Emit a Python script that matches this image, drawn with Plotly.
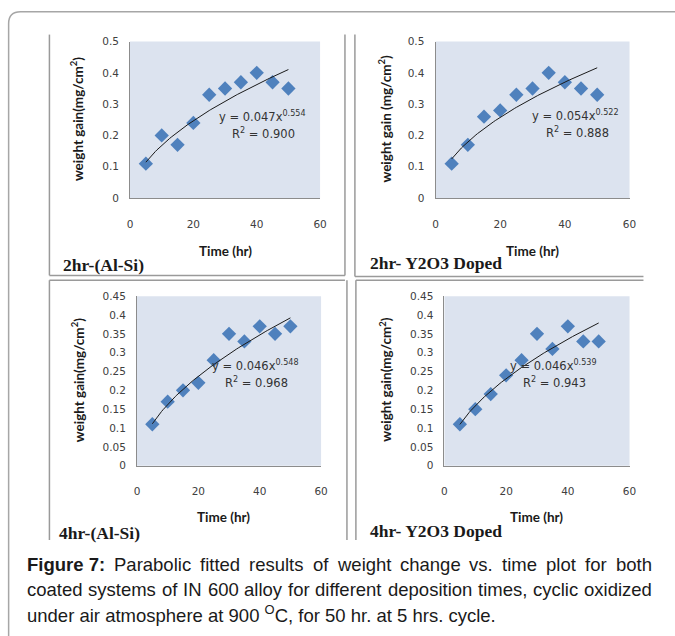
import plotly.graph_objects as go

W, H = 675, 636

# ---- data ----
time_hr = [5, 10, 15, 20, 25, 30, 35, 40, 45, 50]
gain_2hr_alsi = [0.11, 0.20, 0.17, 0.24, 0.33, 0.35, 0.37, 0.40, 0.37, 0.35]
gain_2hr_y2o3 = [0.11, 0.17, 0.26, 0.28, 0.33, 0.35, 0.40, 0.37, 0.35, 0.33]
gain_4hr_alsi = [0.11, 0.17, 0.20, 0.22, 0.28, 0.35, 0.33, 0.37, 0.35, 0.37]
gain_4hr_y2o3 = [0.11, 0.15, 0.19, 0.24, 0.28, 0.35, 0.31, 0.37, 0.33, 0.33]
fit_a = [0.047, 0.054, 0.046, 0.046]
fit_b = [0.554, 0.522, 0.548, 0.539]
fit_r2 = ["0.900", "0.888", "0.968", "0.943"]
panel_labels = ["2hr-(Al-Si)", "2hr- Y2O3 Doped", "4hr-(Al-Si)", "4hr- Y2O3 Doped"]
y_titles = ["weight gain(mg/cm<sup>2</sup>)", "weight gain (mg/cm<sup>2</sup>)",
            "weight gain(mg/cm<sup>2</sup>)", "weight gain(mg/cm<sup>2</sup>)"]
y_max = [0.5, 0.5, 0.45, 0.45]
y_dtick = [0.1, 0.1, 0.05, 0.05]
x_ticks = [0, 20, 40, 60]
series = [gain_2hr_alsi, gain_2hr_y2o3, gain_4hr_alsi, gain_4hr_y2o3]

caption_line1 = ["<b>Figure 7:</b>", "Parabolic", "fitted", "results", "of", "weight",
                 "change", "vs.", "time", "plot", "for", "both"]
caption_line2 = ["coated", "systems", "of", "IN", "600", "alloy", "for", "different",
                 "deposition", "times,", "cyclic", "oxidized"]
caption_line3 = "under air atmosphere at 900 <sup>O</sup>C, for 50 hr. at 5 hrs. cycle."

# ---- layout geometry (pixels) ----
plot_boxes = [(131, 322, 39, 197), (438, 633, 39, 197),
              (138, 323, 296, 467), (447, 633, 296, 467)]
eq_pos = [(218, 115), (533, 114), (211, 366), (511, 366)]
r2_pos = [(231, 132), (547, 131), (224, 383), (524, 383)]
ytitle_x = [78, 387, 79, 388]
xtitle_pos = [(227, 250), (535, 250), (225, 519), (540, 519)]
label_pos = [(62, 265), (370, 263), (58, 535), (370, 533)]
cap_y = [567, 592, 617]
cap_left, cap_right = 28, 655

K = 1.01  # small expansion about the centre to match the rendered picture

def px(x):
    return (W / 2 + (x - W / 2) * K) / W

def py(y):
    return 1 - (H / 2 + (y - H / 2) * K) / H

fig = go.Figure()
annotations = []
shapes = []

tick_font = dict(family="DejaVu Sans", size=10.5, color="#404040")
title_font = dict(family="Lato", size=13.5, color="#1a1a1a", weight="bold")

for i in range(4):
    ax = "" if i == 0 else str(i + 1)
    x0, x1, y0, y1 = plot_boxes[i]
    fig.add_trace(go.Scatter(
        x=time_hr, y=series[i], mode="markers",
        marker=dict(symbol="diamond", size=11, color="#4F81BD",
                    line=dict(width=0)),
        xaxis="x" + ax, yaxis="y" + ax, showlegend=False))
    tx = [5 + k * 0.5 for k in range(91)]
    ty = [fit_a[i] * t ** fit_b[i] for t in tx]
    fig.add_trace(go.Scatter(
        x=tx, y=ty, mode="lines", line=dict(color="#1a1a1a", width=1),
        xaxis="x" + ax, yaxis="y" + ax, showlegend=False, hoverinfo="skip"))
    fig.update_layout(**{
        "xaxis" + ax: dict(domain=[px(x0), px(x1)], range=[0, 60],
                           tickvals=x_ticks, showgrid=False, zeroline=False,
                           showline=True, linecolor="#8c8c8c", linewidth=1,
                           ticks="", ticklabelstandoff=16, tickfont=tick_font,
                           anchor="y" + ax, fixedrange=True),
        "yaxis" + ax: dict(domain=[py(y1), py(y0)], range=[0, y_max[i]],
                           dtick=y_dtick[i], tick0=0, showgrid=False,
                           zeroline=False, showline=True, linecolor="#8c8c8c",
                           linewidth=1, ticks="", ticklabelstandoff=8,
                           tickfont=tick_font, anchor="x" + ax, fixedrange=True),
    })
    shapes.append(dict(type="rect", xref="paper", yref="paper",
                       x0=px(x0), x1=px(x1), y0=py(y1), y1=py(y0),
                       fillcolor="#DCE3EF", line=dict(width=0), layer="below"))
    ex, ey = eq_pos[i]
    annotations.append(dict(x=px(ex), y=py(ey), xref="paper", yref="paper",
                            xanchor="left", yanchor="middle", showarrow=False,
                            text="y = %.3fx<sup>%.3f</sup>" % (fit_a[i], fit_b[i]),
                            font=dict(family="DejaVu Sans", size=11.5, color="#333333")))
    rx, ry = r2_pos[i]
    annotations.append(dict(x=px(rx), y=py(ry), xref="paper", yref="paper",
                            xanchor="left", yanchor="middle", showarrow=False,
                            text="R<sup>2</sup> = " + fit_r2[i],
                            font=dict(family="DejaVu Sans", size=11.5, color="#333333")))
    annotations.append(dict(x=px(ytitle_x[i]), y=py((y0 + y1) / 2 - 1), xref="paper",
                            yref="paper", xanchor="center", yanchor="middle",
                            showarrow=False, textangle=-90, text=y_titles[i],
                            font=title_font))
    tx_, ty_ = xtitle_pos[i]
    annotations.append(dict(x=px(tx_), y=py(ty_), xref="paper", yref="paper",
                            xanchor="center", yanchor="middle", showarrow=False,
                            text="Time (hr)", font=title_font))
    lx, ly = label_pos[i]
    annotations.append(dict(x=px(lx), y=py(ly), xref="paper", yref="paper",
                            xanchor="left", yanchor="middle", showarrow=False,
                            text="<b>" + panel_labels[i] + "</b>",
                            font=dict(family="Liberation Serif", size=17.5,
                                      color="#1a1a1a")))

# panel frames
frame = dict(color="#9a9a9a", width=1.5)
def seg(xa, ya, xb, yb, line=frame):
    shapes.append(dict(type="line", xref="paper", yref="paper",
                       x0=px(xa), y0=py(ya), x1=px(xb), y1=py(yb), line=line))

seg(50, 32, 50, 275); seg(50, 275, 347, 275); seg(347, 32, 347, 275)
seg(357, 32, 357, 276); seg(357, 276, 647, 276)
seg(50, 280, 347, 280); seg(50, 280, 50, 542); seg(349, 280, 349, 542)
seg(358, 280, 647, 280); seg(358, 280, 358, 542)

# outer rounded border
r = 12
path = ("M %f,%f L %f,%f Q %f,%f %f,%f L %f,%f" % (
    px(9), py(H + 5), px(9), py(9 + r), px(9), py(9), px(9 + r), py(9),
    px(W + 5), py(9)))
shapes.append(dict(type="path", xref="paper", yref="paper", path=path,
                   line=dict(color="#a6a6a6", width=1.5)))

# caption: justified lines laid out word by word using Arial (Liberation Sans) metrics
CAP_SIZE = 18.5
cap_font = dict(family="Liberation Sans", size=CAP_SIZE, color="#1a1a1a")
reg_w = {'a': 556, 'b': 556, 'c': 500, 'd': 556, 'e': 556, 'f': 278, 'g': 556,
         'h': 556, 'i': 222, 'l': 222, 'm': 833, 'n': 556, 'o': 556, 'p': 556,
         'r': 333, 's': 500, 't': 278, 'u': 556, 'v': 500, 'w': 722, 'x': 500,
         'y': 500, 'z': 500, '.': 278, ',': 278, ':': 278, 'I': 278, 'N': 722,
         'P': 667, '0': 556, '6': 556}
bold_w = {'F': 611, 'i': 278, 'g': 611, 'u': 611, 'r': 389, 'e': 556, ' ': 278,
          '7': 556, ':': 333}

def word_width(w):
    if w.startswith("<b>"):
        units = sum(bold_w.get(c, 556) for c in w[3:-4])
    else:
        units = sum(reg_w.get(c, 556) for c in w)
    return units * CAP_SIZE / 1000

def justify(words, yy):
    ws = [word_width(w) for w in words]
    gap = (cap_right - cap_left - sum(ws)) / (len(words) - 1)
    x = cap_left
    for w, wd in zip(words, ws):
        annotations.append(dict(x=px(x + wd / 2), y=py(yy), xref="paper",
                                yref="paper", xanchor="center", yanchor="middle",
                                showarrow=False, text=w, font=cap_font))
        x += wd + gap

justify(caption_line1, cap_y[0])
justify(caption_line2, cap_y[1])
annotations.append(dict(x=px(cap_left - 3), y=py(cap_y[2]), xref="paper", yref="paper",
                        xanchor="left", yanchor="middle", showarrow=False,
                        text=caption_line3, font=cap_font))

fig.update_layout(width=W, height=H, margin=dict(l=0, r=0, t=0, b=0),
                  paper_bgcolor="white", plot_bgcolor="rgba(0,0,0,0)",
                  annotations=annotations, shapes=shapes)
fig.write_html("out.html", config={"displayModeBar": False},
               post_script="document.body.style.margin='0';"
                           "document.body.style.overflow='hidden';")
